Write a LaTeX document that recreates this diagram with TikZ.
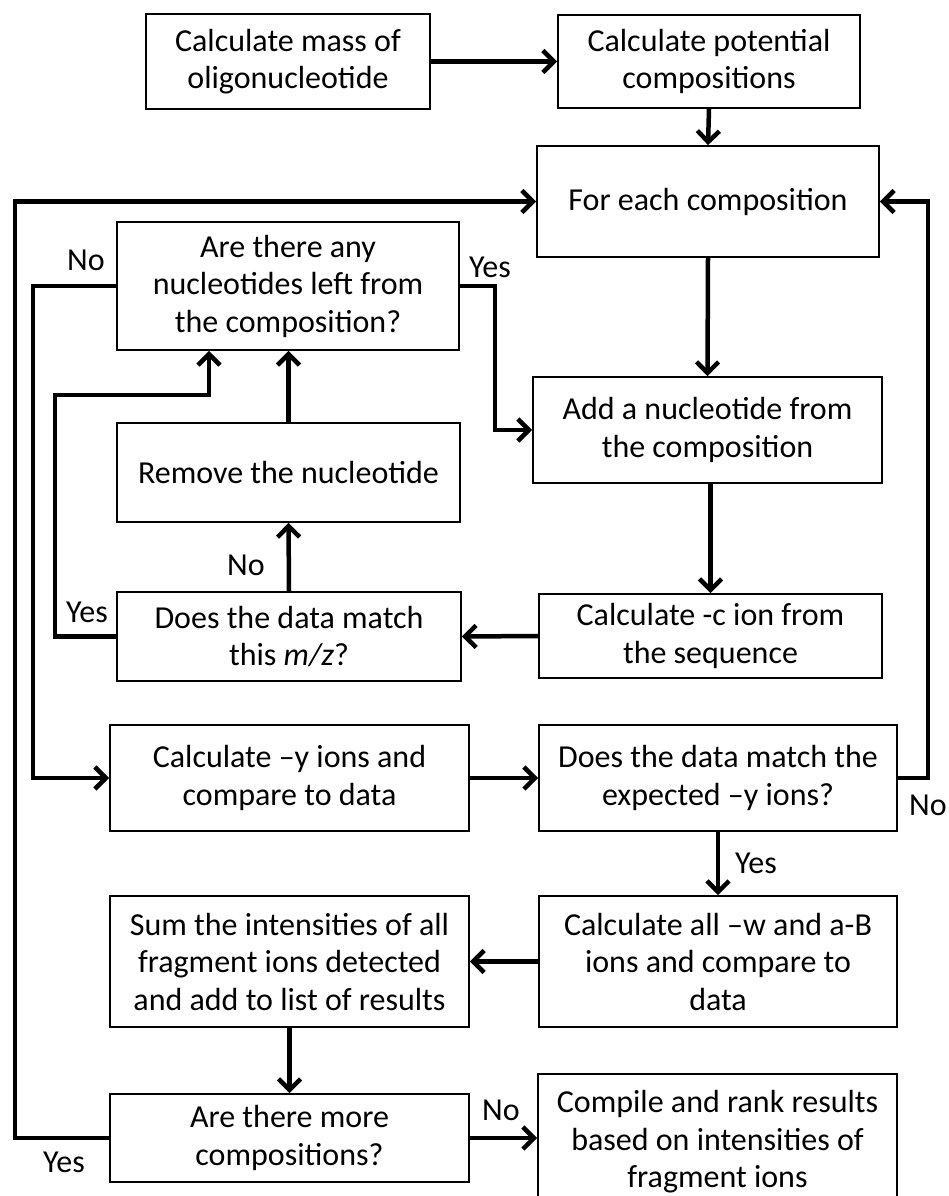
\documentclass[tikz,border=0pt]{standalone}
\usepackage{fontspec}
\setmainfont{Carlito}
\usetikzlibrary{arrows.meta}
\begin{document}
\begin{tikzpicture}[x=1pt,y=-1pt,
  box/.style={draw=black, line width=1.8pt, inner sep=0pt, align=center,
    font=\fontsize{32}{37.5}\selectfont},
  conn/.style={line width=4.5pt, -{Straight Barb[length=11pt,width=22pt]}},
  lbl/.style={font=\fontsize{32}{37.5}\selectfont, inner sep=0pt}]
\useasboundingbox (0,0) rectangle (948,1196);
% boxes
\node[box, minimum width=284pt, minimum height=95pt] (A) at (288,61.5) {Calculate mass of\\oligonucleotide};
\node[box, minimum width=302pt, minimum height=93pt] (B) at (709,61.5) {Calculate potential\\compositions};
\node[box, minimum width=342pt, minimum height=111pt] (C) at (708,201.5) {For each composition};
\node[box, minimum width=342pt, minimum height=128pt] (D) at (288,286) {Are there any\\nucleotides left from\\the composition?};
\node[box, minimum width=349pt, minimum height=106pt] (E) at (707.5,430) {Add a nucleotide from\\the composition};
\node[box, minimum width=343pt, minimum height=99pt] (F) at (288.5,472.5) {Remove the nucleotide};
\node[box, minimum width=344pt, minimum height=89pt] (G) at (289,636.5) {Does the data match\\this \textit{m/z}?};
\node[box, minimum width=343pt, minimum height=84pt] (H) at (710.5,636) {Calculate -c ion from\\the sequence};
\node[box, minimum width=359pt, minimum height=106pt] (I) at (289.5,778) {Calculate –y ions and\\compare to data};
\node[box, minimum width=358pt, minimum height=106pt] (J) at (718,778) {Does the data match the\\expected –y ions?};
\node[box, minimum width=358pt, minimum height=131pt] (K) at (718,961.5) {Calculate all –w and a-B\\ions and compare to\\data};
\node[box, minimum width=359pt, minimum height=131pt] (L) at (289.5,961.5) {Sum the intensities of all\\fragment ions detected\\and add to list of results};
\node[box, minimum width=359pt, minimum height=88pt] (M) at (289.5,1138) {Are there more\\compositions?};
\node[box, minimum width=359pt, minimum height=136pt] (N) at (717.5,1142) {Compile and rank results\\based on intensities of\\fragment ions};
% helper coordinates
\coordinate (gy1) at (55,395);
\coordinate (gy2) at (209,395);
\coordinate (dy) at (495,320);
\coordinate (dn) at (33,500);
\coordinate (jn) at (928,500);
\coordinate (my) at (15,600);
% connectors
\draw[conn] (A.east) -- (B.west);
\draw[conn] (B.south) -- (C.north);
\draw[conn] (C.south) -- (E.north);
\draw[conn] (E.south -| H.north) -- (H.north);
\draw[conn] (H.west) -- (G.east);
\draw[conn] (G.north) -- (F.south);
\draw[conn] (F.north) -- (F.north |- D.south);
\draw[conn] (G.west) -| (gy1) -- (gy2) -- (gy2 |- D.south);
\draw[conn] (D.east) -| (dy) |- (E.west);
\draw[conn] (D.west) -| (dn) |- (I.west);
\draw[conn] (I.east) -- (J.west);
\draw[conn] (J.east) -| (jn) |- (C.east);
\draw[conn] (J.south) -- (K.north);
\draw[conn] (K.west) -- (L.east);
\draw[conn] (L.south) -- (M.north);
\draw[conn] (M.east) -- (M.east -| N.west);
\draw[conn] (M.west) -| (my) |- (C.west);
% labels
\node[lbl] (l1) at (86,260) {No};
\node[lbl] (l2) at (490,267) {Yes};
\node[lbl] (l3) at (246,565) {No};
\node[lbl] (l4) at (87,612) {Yes};
\node[lbl] (l5) at (928,805) {No};
\node[lbl] (l6) at (756,863) {Yes};
\node[lbl] (l7) at (501,1110) {No};
\node[lbl] (l8) at (64,1162) {Yes};
\end{tikzpicture}
\end{document}
